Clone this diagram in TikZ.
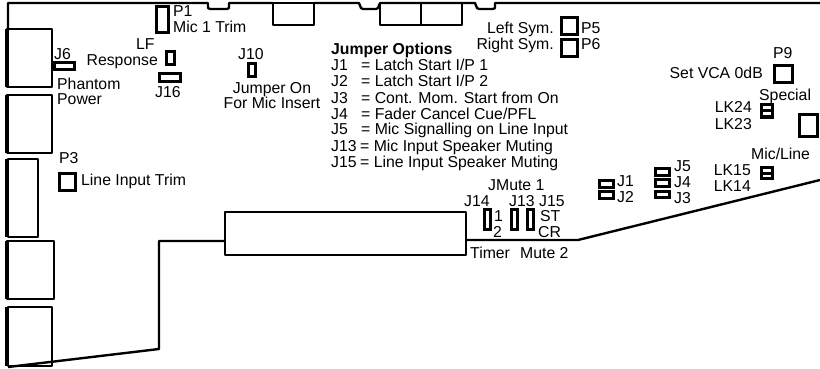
\documentclass[tikz,border=0pt]{standalone}
\usepackage{fontspec}
\setmainfont{Liberation Sans}
\tikzset{
 ln/.style={draw=black,line width=2.4pt,line join=round},
 thk/.style={draw=black,line width=4pt},
 part/.style={draw=black,line width=3pt,fill=white},
 lb/.style={inner sep=0pt,font=\fontsize{15.8}{16}\selectfont,anchor=base west},
 lbc/.style={inner sep=0pt,font=\fontsize{15.8}{16}\selectfont,anchor=base,align=center},
 lbr/.style={inner sep=0pt,font=\fontsize{15.8}{16}\selectfont,anchor=base east},
}
\newcommand{\prt}[4]{\path[part] ({#1+1},{#2+1}) rectangle ({#3-1},{#4-1});}
\begin{document}
\begin{tikzpicture}[x=1pt,y=-1pt]
\useasboundingbox (0,0) rectangle (820,369);
% outline
\draw[ln] (8,29) -- (8,3) -- (208,3) -- (208,8) -- (210,9) -- (227,9) -- (229,8) -- (229,3) -- (273,3);
\draw[ln] (314,3) -- (359,3) -- (361,8) -- (363,9) -- (376,9) -- (378,8) -- (380,3);
\draw[ln] (380,3) -- (475,3) -- (477,8) -- (479,9) -- (493,9) -- (495,8) -- (495,3) -- (820,3);
\draw[ln] (273,3) rectangle (314,25);
\draw[ln] (380,3) rectangle (421,25);
\draw[ln] (421,3) rectangle (462,25);
\draw[ln] (8,367) -- (159,349) -- (159,241) -- (225,241);
\draw[ln] (466,240) -- (578,240) -- (820,180);
% left connectors
\draw[ln] (7,29) rectangle (52,87);
\draw[ln] (7,95) rectangle (52,153);
\draw[ln] (8,159) rectangle (38,237);
\draw[ln] (7,241) rectangle (54,299);
\draw[ln] (8,307) rectangle (52,366);
\foreach \a/\b in {29/87,95/153,159/237,241/299,307/366} \draw[thk] (7,\a) -- (7,\b);
\draw[ln] (225,212) rectangle (466,255);
% parts
\prt{155}{6}{169}{34}
\prt{53}{62}{75}{71}
\prt{165}{51}{175}{66}
\prt{158}{73}{181}{83}
\prt{247}{63}{256}{78}
\prt{560}{17}{578}{36}
\prt{560}{39}{578}{58}
\prt{773}{65}{793}{84}
\prt{798}{114}{818}{137}
\prt{58}{172}{76}{191}
\prt{760}{104}{773}{112}
\prt{760}{110}{773}{118}
\prt{760}{166}{773}{174}
\prt{760}{172}{773}{179}
\prt{598}{179}{614}{188}
\prt{598}{190}{614}{199}
\prt{654}{167}{670}{176}
\prt{654}{178}{670}{187}
\prt{654}{190}{670}{198}
\prt{483}{208}{491}{230}
\prt{510}{208}{518}{230}
\prt{526}{208}{534}{230}
% labels
\node[lb] (t1) at (173,17) {P1};
\node[lb] (t2) at (173,33) {Mic 1 Trim};
\node[lb] (t3) at (136,50) {LF};
\node[lbr] (t4) at (158,66) {Response};
\node[lb] (t5) at (54,60) {J6};
\node[lb] (t6) at (57,89) {Phantom};
\node[lb] (t7) at (57,105) {Power};
\node[lb] (t8) at (155,98) {J16};
\node[lb] (t9) at (238,60) {J10};
\node[lbc] (t10) at (272,93) {Jumper On};
\node[lbc] (t11) at (272,109) {For Mic Insert};
\node[lb] (t12) at (59,163) {P3};
\node[lb] (t13) at (81,185) {Line Input Trim};
\node[lbr] (t14) at (554,34) {Left Sym.};
\node[lbr] (t15) at (554,50) {Right Sym.};
\node[lb] (t16) at (581,34) {P5};
\node[lb] (t17) at (581,50) {P6};
\node[lb] (t18) at (773,59) {P9};
\node[lbr] (t19) at (763,79) {Set VCA 0dB};
\node[lb] (t20) at (759,100) {Special};
\node[lbr] (t21) at (752,113) {LK24};
\node[lbr] (t22) at (752,129) {LK23};
\node[lb] (t23) at (751,159) {Mic/Line};
\node[lbr] (t24) at (751,175) {LK15};
\node[lbr] (t25) at (751,191) {LK14};
\node[lb,font=\fontsize{15.8}{16}\selectfont\bfseries] (o0) at (331,55) {Jumper Options};
\node[lb] (o1) at (331,71) {J1};
\node[lb] (o1b) at (361,71) {= Latch Start I/P 1};
\node[lb] (o2) at (331,87) {J2};
\node[lb] (o2b) at (361,87) {= Latch Start I/P 2};
\node[lb] (o3) at (331,103) {J3};
\node[lb] (o3b) at (361,103) {= Cont. Mom. Start from On};
\node[lb] (o4) at (331,119) {J4};
\node[lb] (o4b) at (361,119) {= Fader Cancel Cue/PFL};
\node[lb] (o5) at (331,135) {J5};
\node[lb] (o5b) at (361,135) {= Mic Signalling on Line Input};
\node[lb] (o6) at (331,151) {J13};
\node[lb] (o6b) at (360,151) {= Mic Input Speaker Muting};
\node[lb] (o7) at (331,167) {J15};
\node[lb] (o7b) at (360,167) {= Line Input Speaker Muting};
\node[lb] (m1) at (488,190) {JMute 1};
\node[lb] (m2) at (464,206) {J14};
\node[lb] (m3) at (509,206) {J13};
\node[lb] (m4) at (539,206) {J15};
\node[lb] (m5) at (494,221) {1};
\node[lb] (m6) at (493,237) {2};
\node[lb] (m7) at (540,221) {ST};
\node[lb] (m8) at (538,237) {CR};
\node[lb] (m9) at (470,258) {Timer};
\node[lb] (m10) at (520,258) {Mute 2};
\node[lb] (j1) at (617,186) {J1};
\node[lb] (j2) at (617,202) {J2};
\node[lb] (j5) at (674,171) {J5};
\node[lb] (j4) at (674,187) {J4};
\node[lb] (j3) at (674,203) {J3};
\end{tikzpicture}
\end{document}
